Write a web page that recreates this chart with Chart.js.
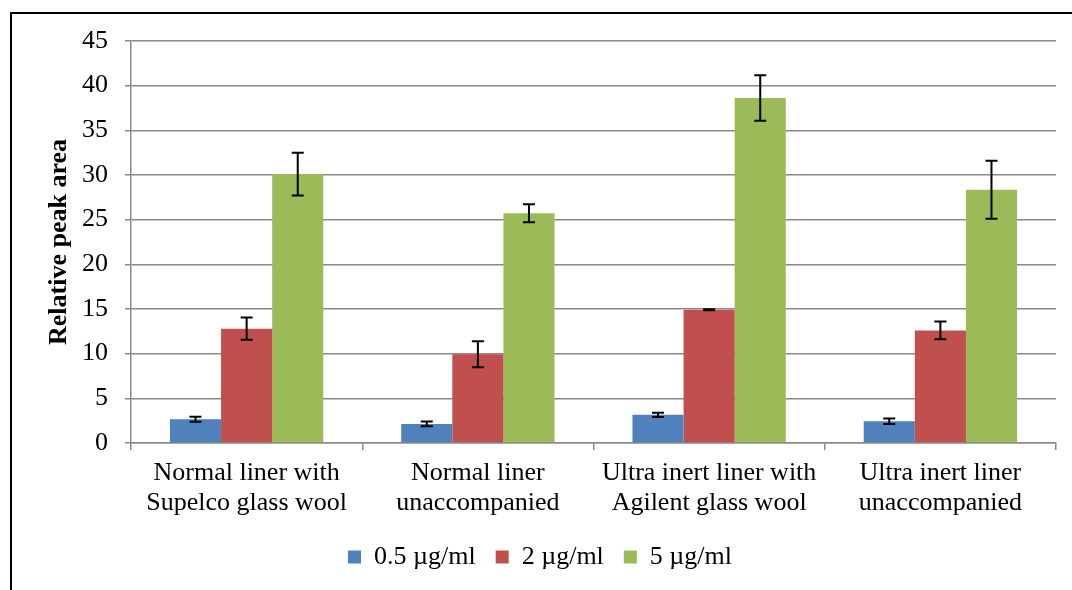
<!DOCTYPE html>
<html>
<head>
<meta charset="utf-8">
<script src="https://cdn.jsdelivr.net/npm/chart.js@4"></script>
<style>
  html, body { margin: 0; padding: 0; background: #fff; }
  #wrap { width: 1072px; height: 590px; }
</style>
</head>
<body>
<div id="wrap"><canvas id="barChart" width="1072" height="590"></canvas></div>
<script>
// categorias y series
const categories = [
  ['Normal liner with', 'Supelco glass wool'],
  ['Normal liner', 'unaccompanied'],
  ['Ultra inert liner with', 'Agilent glass wool'],
  ['Ultra inert liner', 'unaccompanied']
];
const seriesNames = ['0.5 µg/ml', '2 µg/ml', '5 µg/ml'];
const conc05 = [2.67, 2.14, 3.15, 2.44];
const conc2 = [12.8, 9.93, 14.92, 12.6];
const conc5 = [30.1, 25.72, 38.62, 28.35];
const err05 = [0.28, 0.26, 0.25, 0.3];
const err2 = [1.25, 1.45, 0.05, 1.0];
const err5 = [2.4, 1.0, 2.55, 3.25];
const yTicks = [0, 5, 10, 15, 20, 25, 30, 35, 40, 45];

const colors = ['#4F81BD', '#C0504D', '#9BBB59'];
const fontFamily = '"Liberation Serif", "Times New Roman", serif';
const gridColor = '#8a8a8a';

// barras de error (dibujadas con la escala y)
const errorBars = {
  id: 'errorBars',
  afterDatasetsDraw(chart) {
    const ctx = chart.ctx;
    const yScale = chart.scales.y;
    ctx.save();
    ctx.strokeStyle = '#000';
    ctx.lineWidth = 2;
    chart.data.datasets.forEach((ds, i) => {
      const meta = chart.getDatasetMeta(i);
      meta.data.forEach((bar, j) => {
        const v = ds.data[j];
        const e = ds.errors[j];
        const yTop = yScale.getPixelForValue(v + e);
        const yBot = yScale.getPixelForValue(v - e);
        const x = bar.x;
        ctx.beginPath();
        ctx.moveTo(x, yTop); ctx.lineTo(x, yBot);
        ctx.moveTo(x - 6, yTop); ctx.lineTo(x + 6, yTop);
        ctx.moveTo(x - 6, yBot); ctx.lineTo(x + 6, yBot);
        ctx.stroke();
      });
    });
    ctx.restore();
  }
};

// marco exterior
const frame = {
  id: 'frame',
  beforeDraw(chart) {
    const ctx = chart.ctx;
    ctx.save();
    ctx.fillStyle = '#fff';
    ctx.fillRect(0, 0, chart.width, chart.height);
    ctx.strokeStyle = '#000';
    ctx.lineWidth = 2;
    ctx.beginPath();
    ctx.moveTo(11, chart.height);
    ctx.lineTo(11, 13);
    ctx.lineTo(chart.width, 13);
    ctx.stroke();
    ctx.restore();
  }
};

const data = {
  labels: categories,
  datasets: [
    { label: seriesNames[0], data: conc05, errors: err05, backgroundColor: colors[0] },
    { label: seriesNames[1], data: conc2, errors: err2, backgroundColor: colors[1] },
    { label: seriesNames[2], data: conc5, errors: err5, backgroundColor: colors[2] }
  ]
};

const options = {
  responsive: false,
  animation: false,
  layout: { padding: { left: 24, right: 16, top: 41, bottom: 10 } },
  datasets: { bar: { categoryPercentage: 0.663, barPercentage: 1.0, borderWidth: 0 } },
  plugins: {
    tooltip: { enabled: false },
    legend: {
      position: 'bottom',
      labels: {
        boxWidth: 13, boxHeight: 13, padding: 20, color: '#000',
        font: { family: fontFamily, size: 26 }
      }
    }
  },
  scales: {
    x: {
      grid: { display: true, drawOnChartArea: false, color: gridColor, lineWidth: 1.5, tickLength: 7 },
      border: { color: gridColor, width: 1.5 },
      ticks: { color: '#000', padding: 8, maxRotation: 0, font: { family: fontFamily, size: 26, lineHeight: 1.15 } },
      afterFit(scale) { scale.height = 81; }
    },
    y: {
      min: 0, max: 45,
      afterBuildTicks(scale) { scale.ticks = yTicks.map(v => ({ value: v })); },
      grid: { color: gridColor, lineWidth: 1.5, tickLength: 6 },
      border: { color: gridColor, width: 1.5 },
      ticks: { color: '#000', padding: 17, font: { family: fontFamily, size: 26 } },
      title: {
        display: true, text: 'Relative peak area', color: '#000',
        padding: { top: 20, bottom: 0 },
        font: { family: fontFamily, size: 26, weight: 'bold' }
      },
      afterFit(scale) { scale.width = 131 - 24; }
    }
  }
};

new Chart(document.getElementById('barChart').getContext('2d'), {
  type: 'bar',
  data: data,
  options: options,
  plugins: [frame, errorBars]
});
</script>
</body>
</html>
